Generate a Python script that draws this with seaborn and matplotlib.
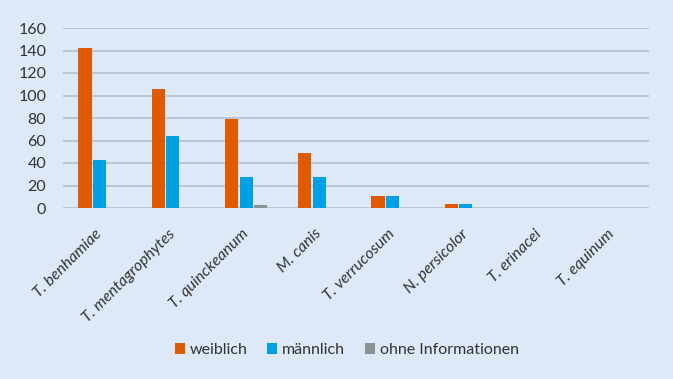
import numpy as np
import pandas as pd
import matplotlib
matplotlib.use("Agg")
import matplotlib.pyplot as plt
import seaborn as sns
from matplotlib.patches import Patch

categories = ["T. benhamiae", "T. mentagrophytes", "T. quinckeanum", "M. canis",
              "T. verrucosum", "N. persicolor", "T. erinacei", "T. equinum"]
weiblich = [142, 106, 79, 49, 11, 4, 0, 0]
maennlich = [43, 64, 28, 28, 11, 4, 0, 0]
ohne_info = [0, 0, 3, 0, 0, 0, 0, 0]
series_names = ["weiblich", "männlich", "ohne Informationen"]
y_ticks = [0, 20, 40, 60, 80, 100, 120, 140, 160]

colors = ["#e05a00", "#00a0e4", "#8c9196"]
bg = "#dde9f7"
text_color = "#333333"

sns.set_theme(style="white")
plt.rcParams['font.family'] = ['Lato', 'DejaVu Sans']

fig = plt.figure(figsize=(6.73, 3.79), dpi=100, facecolor=bg)
ax = fig.add_axes([63 / 673, 1 - 208 / 379, 586 / 673, 180 / 379])
ax.set_facecolor(bg)

rows = []
for name, vals in zip(series_names, [weiblich, maennlich, ohne_info]):
    for c, v in zip(categories, vals):
        rows.append({"Art": c, "Anzahl": v, "Geschlecht": name})
df = pd.DataFrame(rows)

sns.barplot(data=df, x="Art", y="Anzahl", hue="Geschlecht", order=categories,
            hue_order=series_names, palette=colors, width=0.6, gap=0.1,
            saturation=1, linewidth=0, ax=ax, legend=False, errorbar=None)

ax.set_ylim(0, 160)
ax.set_yticks(y_ticks)
ax.grid(axis='y', color='#b4bfcb', lw=1.2)
ax.grid(axis='x', visible=False)
ax.set_axisbelow(True)
for s in ax.spines.values():
    s.set_visible(False)
ax.tick_params(axis='y', length=0, pad=12, labelsize=11.5, labelcolor=text_color)
ax.set_xticks(range(len(categories)))
ax.set_xticklabels(categories, rotation=45, ha='right', va='center',
                   rotation_mode='anchor', fontsize=11.5, style='italic',
                   color=text_color)
ax.tick_params(axis='x', length=0, pad=17)
ax.set_xlabel('')
ax.set_ylabel('')

handles = [Patch(facecolor=col, edgecolor='none') for col in colors]
fig.legend(handles, series_names, loc='center', bbox_to_anchor=(0.515, 0.0765),
           ncol=3, frameon=False, handlelength=0.62, handleheight=0.62,
           handletextpad=0.3, columnspacing=1.25, fontsize=11.5,
           labelcolor=text_color)

fig.savefig("out.png", dpi=100, facecolor=bg)
